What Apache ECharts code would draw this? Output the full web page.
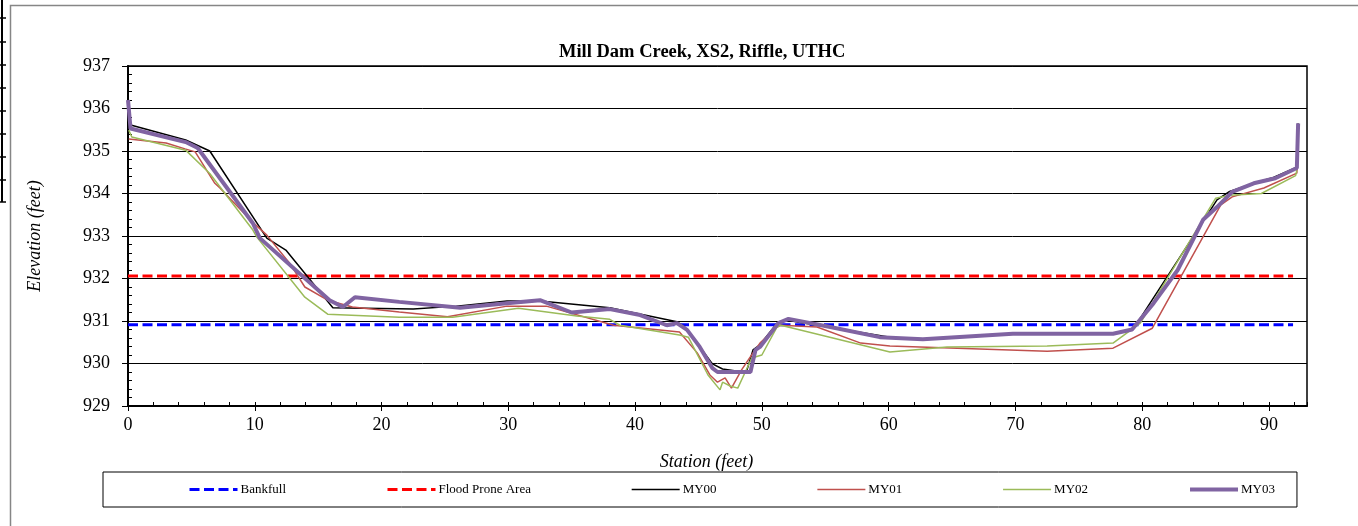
<!DOCTYPE html>
<html>
<head>
<meta charset="utf-8">
<script src="https://cdn.jsdelivr.net/npm/echarts@6/dist/echarts.min.js"></script>
<style>
  html, body { margin: 0; padding: 0; background: #fff; }
  #chart { width: 1358px; height: 526px; }
</style>
</head>
<body>
<div id="chart"></div>
<script>
// Cross-section survey: station (ft) vs elevation (ft)
const chartTitle = 'Mill Dam Creek, XS2, Riffle, UTHC';
const seriesNames = ['Bankfull', 'Flood Prone Area', 'MY00', 'MY01', 'MY02', 'MY03'];

const bankfullStation = [0, 91.9];
const bankfullElev = [930.91, 930.91];

const floodStation = [0, 91.9];
const floodElev = [932.06, 932.06];

const my00Station = [0, 0.21, 4.55, 6.45, 10.95, 12.45, 16.16, 22.5, 25.9, 29.9, 32.5, 38.0, 43.3, 43.9, 44.9, 46.1, 46.9, 48.1, 48.8, 49.3, 49.85, 51.2, 52.0, 60.1, 62.7, 69.8, 77.7, 79.2, 79.6, 85.9, 86.9, 88.8, 90.35, 92.2, 92.3];
const my00Elev = [935.89, 935.61, 935.26, 935.0, 932.95, 932.67, 931.31, 931.28, 931.35, 931.47, 931.47, 931.31, 930.98, 930.86, 930.48, 929.99, 929.87, 929.82, 929.82, 930.32, 930.44, 930.95, 931.02, 930.62, 930.56, 930.7, 930.7, 930.8, 930.95, 933.85, 934.05, 934.24, 934.38, 934.62, 935.65];

const my01Station = [0.06, 3.0, 4.5, 5.3, 6.85, 7.25, 9.85, 10.95, 12.75, 13.95, 15.75, 17.7, 21.4, 25.2, 29.9, 33.0, 38.3, 43.5, 44.9, 45.9, 46.5, 47.1, 47.6, 48.4, 49.3, 49.85, 51.2, 51.5, 54.35, 57.8, 60.1, 72.5, 77.7, 80.8, 86.2, 87.1, 89.6, 92.2, 92.3];
const my01Elev = [935.28, 935.19, 935.05, 934.98, 934.24, 934.13, 933.32, 933.02, 932.36, 931.8, 931.49, 931.33, 931.21, 931.1, 931.35, 931.35, 930.9, 930.74, 930.25, 929.73, 929.56, 929.66, 929.42, 929.85, 930.25, 930.48, 930.86, 930.9, 930.86, 930.48, 930.41, 930.29, 930.36, 930.83, 933.73, 933.92, 934.13, 934.48, 935.6];

const my02Station = [0.06, 0.3, 4.55, 6.45, 9.85, 10.15, 13.95, 15.75, 21.4, 25.6, 30.8, 35.4, 38.0, 38.8, 43.5, 44.2, 45.75, 46.7, 46.9, 47.5, 48.1, 49.2, 50.0, 51.2, 51.5, 60.1, 64.6, 72.5, 77.7, 79.85, 85.8, 86.9, 89.4, 92.1, 92.2];
const my02Elev = [935.49, 935.33, 935.02, 934.47, 933.14, 932.98, 931.56, 931.16, 931.09, 931.09, 931.3, 931.12, 931.04, 930.9, 930.67, 930.62, 929.73, 929.38, 929.56, 929.47, 929.42, 930.13, 930.2, 930.86, 930.9, 930.27, 930.39, 930.41, 930.48, 930.95, 933.89, 933.96, 934.0, 934.42, 934.55];

const my03Station = [0, 0.2, 4.55, 5.5, 9.85, 10.4, 15.9, 16.95, 17.9, 21.4, 26.2, 29.9, 32.5, 35.0, 38.0, 40.4, 42.5, 43.3, 44.1, 45.1, 46.1, 46.5, 47.7, 49.1, 49.5, 49.85, 51.3, 52.1, 55.4, 59.3, 62.7, 69.8, 77.7, 79.2, 80.9, 82.8, 84.8, 85.9, 87.1, 88.8, 90.5, 92.2, 92.3];
const my03Elev = [936.2, 935.53, 935.21, 935.07, 933.3, 932.95, 931.49, 931.33, 931.56, 931.45, 931.31, 931.42, 931.49, 931.2, 931.28, 931.14, 930.9, 930.95, 930.79, 930.39, 929.89, 929.8, 929.8, 929.8, 930.32, 930.39, 930.95, 931.05, 930.86, 930.62, 930.57, 930.7, 930.7, 930.8, 931.42, 932.2, 933.38, 933.68, 934.04, 934.24, 934.36, 934.6, 935.65];

const xTickStep = 10;
const yTicks = [929, 930, 931, 932, 933, 934, 935, 936, 937];

function pairs(xs, ys) {
  return xs.map((x, i) => [x, ys[i]]);
}

const serif = 'Liberation Serif';
const chart = echarts.init(document.getElementById('chart'), null, { renderer: 'canvas' });

function lineSeries(name, xs, ys, color, width, dashed) {
  return {
    name: name,
    type: 'line',
    data: pairs(xs, ys),
    symbol: 'none',
    showSymbol: false,
    xAxisIndex: 0,
    yAxisIndex: 0,
    lineStyle: { color: color, width: width, type: dashed ? [10, 4.5] : 'solid', cap: 'butt' },
    itemStyle: { color: color },
    emphasis: { disabled: true },
    animation: false
  };
}

const option = {
  animation: false,
  backgroundColor: '#ffffff',
  title: {
    text: chartTitle,
    left: 554,
    top: 38,
    textStyle: { fontFamily: serif, fontWeight: 'bold', fontSize: 18.5, color: '#000' }
  },
  grid: {
    left: 128, right: 51, top: 66, bottom: 120,
    show: true, borderColor: '#000', borderWidth: 1.5, backgroundColor: 'transparent'
  },
  legend: {
    data: seriesNames,
    left: 103,
    top: 472,
    padding: [11, 22, 11, 85],
    itemGap: 100,
    itemWidth: 48,
    itemHeight: 14,
    borderColor: '#000',
    borderWidth: 1,
    // line-only keys: hide the marker that line series add to their key
    itemStyle: { color: 'rgba(0,0,0,0)', borderWidth: 0, opacity: 0 },
    lineStyle: { width: 'inherit' },
    textStyle: { fontFamily: serif, fontSize: 13, color: '#000', padding: [0, 0, 0, -2] },
    selectedMode: false
  },
  xAxis: [
    {
      type: 'value', min: 0, max: 93, interval: xTickStep,
      name: 'Station (feet)', nameLocation: 'middle', nameGap: 47,
      nameTextStyle: { fontFamily: serif, fontStyle: 'italic', fontSize: 18, color: '#000', padding: [0, 22, 0, 0] },
      axisLine: { show: true, onZero: false, lineStyle: { color: '#000', width: 2 } },
      axisTick: { show: true, inside: false, length: 5, lineStyle: { color: '#000', width: 1 } },
      axisLabel: {
        fontFamily: serif, fontSize: 18, color: '#000', margin: 10, showMaxLabel: false,
        formatter: v => (v % xTickStep === 0 ? String(v) : '')
      },
      splitLine: { show: false }
    },
    {
      type: 'value', min: 0, max: 93, interval: 2, position: 'bottom',
      axisLine: { show: false },
      axisTick: { show: true, inside: true, length: 4, lineStyle: { color: '#000', width: 1 } },
      axisLabel: { show: false },
      splitLine: { show: false }
    }
  ],
  yAxis: [
    {
      type: 'value', min: yTicks[0], max: yTicks[yTicks.length - 1], interval: 1,
      name: 'Elevation (feet)', nameLocation: 'middle', nameGap: 84, nameRotate: 90,
      nameTextStyle: { fontFamily: serif, fontStyle: 'italic', fontSize: 18, color: '#000' },
      axisLine: { show: true, onZero: false, lineStyle: { color: '#000', width: 2 } },
      axisTick: { show: true, inside: false, length: 6, lineStyle: { color: '#000', width: 1 } },
      axisLabel: { fontFamily: serif, fontSize: 18, color: '#000', margin: 18 },
      splitLine: { show: true, lineStyle: { color: '#000', width: 1 } }
    },
    {
      type: 'value', min: yTicks[0], max: yTicks[yTicks.length - 1], interval: 0.2, position: 'left',
      axisLine: { show: false },
      axisTick: { show: true, inside: true, length: 4, lineStyle: { color: '#000', width: 1 } },
      axisLabel: { show: false },
      splitLine: { show: false }
    }
  ],
  graphic: [
    // outer chart frame
    { type: 'rect', shape: { x: 10.5, y: 5.5, width: 1360, height: 540 }, style: { fill: 'none', stroke: '#868686', lineWidth: 1.5 }, silent: true },
    // edge of the neighbouring panel on the left
    { type: 'line', shape: { x1: 2, y1: 0, x2: 2, y2: 202 }, style: { stroke: '#000', lineWidth: 2 }, silent: true },
    ...[18, 42, 65, 88, 111, 134, 157, 180, 202].map(y => ({
      type: 'line', shape: { x1: 0, y1: y, x2: 6, y2: y }, style: { stroke: '#000', lineWidth: 1.5 }, silent: true
    }))
  ],
  series: [
    lineSeries('Bankfull', bankfullStation, bankfullElev, '#0000ff', 3, true),
    lineSeries('Flood Prone Area', floodStation, floodElev, '#ff0000', 3, true),
    lineSeries('MY00', my00Station, my00Elev, '#000000', 1.5, false),
    lineSeries('MY01', my01Station, my01Elev, '#c0504d', 1.5, false),
    lineSeries('MY02', my02Station, my02Elev, '#9bbb59', 1.5, false),
    lineSeries('MY03', my03Station, my03Elev, '#8064a2', 4, false)
  ]
};

chart.setOption(option);
</script>
</body>
</html>
